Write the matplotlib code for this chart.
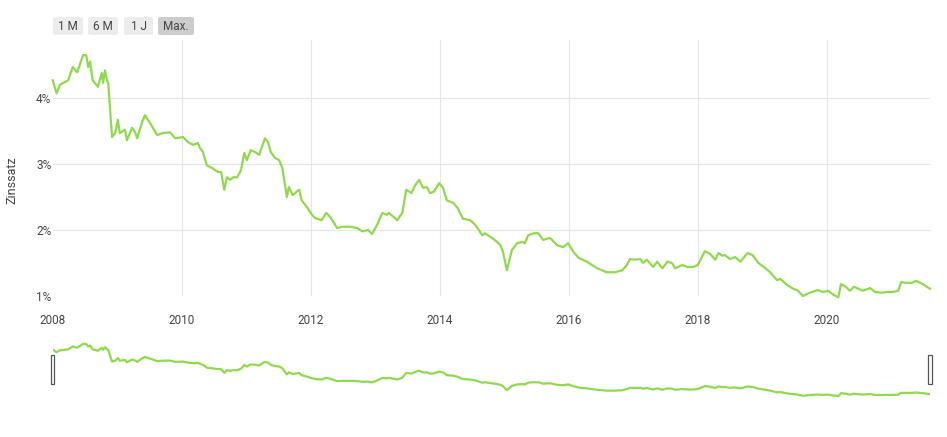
import matplotlib
matplotlib.use("Agg")
import matplotlib.pyplot as plt
from matplotlib.patches import FancyBboxPatch, Rectangle

plt.rcParams['font.family'] = ['Roboto', 'DejaVu Sans']

# Zinssatz (%), x as decimal years
years = [
    2008.00, 2008.06, 2008.11, 2008.24, 2008.31, 2008.38, 2008.47, 2008.52, 2008.55, 2008.58,
    2008.62, 2008.70, 2008.76, 2008.78, 2008.81, 2008.84, 2008.86, 2008.92, 2008.97, 2009.01,
    2009.04, 2009.12, 2009.15, 2009.23, 2009.28, 2009.31, 2009.38, 2009.43, 2009.51, 2009.62,
    2009.71, 2009.82, 2009.90, 2010.02, 2010.10, 2010.18, 2010.25, 2010.28, 2010.33, 2010.39,
    2010.47, 2010.56, 2010.61, 2010.66, 2010.70, 2010.75, 2010.80, 2010.86, 2010.92, 2010.97,
    2011.01, 2011.07, 2011.14, 2011.20, 2011.29, 2011.34, 2011.38, 2011.45, 2011.51, 2011.56,
    2011.63, 2011.66, 2011.72, 2011.82, 2011.86, 2011.94, 2012.02, 2012.07, 2012.17, 2012.24,
    2012.30, 2012.41, 2012.50, 2012.61, 2012.72, 2012.80, 2012.89, 2012.95, 2013.03, 2013.11,
    2013.18, 2013.21, 2013.34, 2013.42, 2013.48, 2013.56, 2013.62, 2013.68, 2013.74, 2013.80,
    2013.85, 2013.91, 2013.99, 2014.05, 2014.11, 2014.21, 2014.28, 2014.36, 2014.47, 2014.55,
    2014.66, 2014.70, 2014.81, 2014.89, 2014.94, 2014.98, 2015.04, 2015.12, 2015.20, 2015.28,
    2015.32, 2015.37, 2015.45, 2015.53, 2015.60, 2015.71, 2015.82, 2015.91, 2015.99, 2016.07,
    2016.15, 2016.28, 2016.44, 2016.59, 2016.72, 2016.83, 2016.90, 2016.95, 2017.03, 2017.11,
    2017.15, 2017.21, 2017.31, 2017.37, 2017.45, 2017.53, 2017.60, 2017.65, 2017.76, 2017.84,
    2017.93, 2018.00, 2018.11, 2018.19, 2018.27, 2018.32, 2018.38, 2018.42, 2018.50, 2018.58,
    2018.66, 2018.77, 2018.85, 2018.94, 2019.05, 2019.12, 2019.23, 2019.28, 2019.38, 2019.48,
    2019.54, 2019.63, 2019.69, 2019.77, 2019.86, 2019.94, 2020.02, 2020.10, 2020.18, 2020.22,
    2020.28, 2020.36, 2020.42, 2020.49, 2020.56, 2020.67, 2020.75, 2020.86, 2020.93, 2021.02,
    2021.11, 2021.15, 2021.23, 2021.32, 2021.38, 2021.45, 2021.49, 2021.55, 2021.60,
]
rates = [
    4.27, 4.07, 4.20, 4.27, 4.47, 4.39, 4.65, 4.65, 4.47, 4.55,
    4.27, 4.17, 4.38, 4.23, 4.42, 4.27, 4.23, 3.41, 3.47, 3.67,
    3.47, 3.52, 3.36, 3.55, 3.48, 3.39, 3.62, 3.74, 3.62, 3.44,
    3.47, 3.48, 3.39, 3.41, 3.33, 3.29, 3.32, 3.25, 3.18, 2.98,
    2.94, 2.88, 2.88, 2.61, 2.80, 2.76, 2.80, 2.80, 2.91, 3.17,
    3.06, 3.21, 3.18, 3.14, 3.39, 3.33, 3.18, 3.09, 3.06, 2.94,
    2.50, 2.65, 2.53, 2.61, 2.45, 2.35, 2.23, 2.18, 2.15, 2.26,
    2.20, 2.03, 2.05, 2.05, 2.03, 1.98, 2.00, 1.94, 2.08, 2.26,
    2.23, 2.26, 2.15, 2.26, 2.61, 2.56, 2.68, 2.76, 2.64, 2.65,
    2.56, 2.58, 2.71, 2.64, 2.45, 2.41, 2.33, 2.17, 2.15, 2.08,
    1.92, 1.95, 1.88, 1.82, 1.77, 1.67, 1.39, 1.70, 1.80, 1.82,
    1.80, 1.92, 1.95, 1.95, 1.85, 1.88, 1.77, 1.74, 1.80, 1.67,
    1.58, 1.52, 1.42, 1.36, 1.36, 1.39, 1.47, 1.56, 1.55, 1.56,
    1.50, 1.55, 1.44, 1.52, 1.42, 1.52, 1.50, 1.42, 1.47, 1.44,
    1.44, 1.47, 1.68, 1.64, 1.55, 1.65, 1.61, 1.62, 1.56, 1.59,
    1.52, 1.65, 1.62, 1.50, 1.42, 1.36, 1.24, 1.26, 1.17, 1.11,
    1.09, 1.00, 1.03, 1.06, 1.09, 1.06, 1.08, 1.02, 0.98, 1.18,
    1.15, 1.08, 1.14, 1.11, 1.08, 1.12, 1.06, 1.05, 1.06, 1.06,
    1.08, 1.21, 1.20, 1.20, 1.23, 1.20, 1.18, 1.14, 1.11,
]
year_ticks = [2008, 2010, 2012, 2014, 2016, 2018, 2020]
rate_ticks = [1, 2, 3, 4]
buttons = ["1 M", "6 M", "1 J", "Max."]

W, H = 947, 437
green = "#8fd94e"
grid = "#e6e6e6"

fig = plt.figure(figsize=(W / 100, H / 100), dpi=100)

def px_box(x0, y0, x1, y1):
    return [x0 / W, 1 - y1 / H, (x1 - x0) / W, (y1 - y0) / H]

# main chart
ax = fig.add_axes(px_box(52.7, 40, 930, 296))
ax.plot(years, rates, color=green, lw=1.6, clip_on=False, solid_joinstyle="round")
ax.set_xlim(2008, 2021.60)
ax.set_ylim(1.0, 4.88)
ax.set_xticks(year_ticks)
ax.set_xticklabels([str(y) for y in year_ticks])
ax.set_yticks(rate_ticks)
ax.set_yticklabels([f"{r}%" for r in rate_ticks])
ax.grid(True, color=grid, lw=0.8)
ax.get_xgridlines()[0].set_visible(False)  # no grid line on the left edge
ax.set_axisbelow(True)
for s in ax.spines.values():
    s.set_visible(False)
ax.tick_params(axis="x", length=0, pad=13, labelsize=8.5, labelcolor="#444444")
ax.tick_params(axis="y", length=0, pad=1, labelsize=8.5, labelcolor="#444444")
fig.text(12 / W, 1 - 180 / H, "Zinssatz", rotation=90, ha="center", va="center",
         fontsize=9, color="#444444")

# navigator
nav = fig.add_axes(px_box(52.7, 340, 930, 400))
nav.plot(years, rates, color=green, lw=1.6, solid_joinstyle="round")
nav.set_xlim(2008, 2021.60)
nav.set_ylim(0.70, 4.93)
nav.axis("off")
for hx in (0, 1):
    nav.add_patch(Rectangle((hx - 0.00175, 0.27), 0.0035, 0.48, transform=nav.transAxes,
                            facecolor="white", edgecolor="#555555", lw=0.9,
                            clip_on=False))

# range buttons
bx = [(53, 83), (88, 118), (124, 153), (158, 194)]
for (x0, x1), label in zip(bx, buttons):
    fc = "#cccccc" if label == "Max." else "#ececec"
    fig.patches.append(FancyBboxPatch((x0 / W, 1 - 35 / H), (x1 - x0) / W, 18 / H,
                                      boxstyle="round,pad=0,rounding_size=0.004",
                                      transform=fig.transFigure, facecolor=fc,
                                      edgecolor="none"))
    fig.text((x0 + x1) / 2 / W, 1 - 26 / H, label, ha="center", va="center",
             fontsize=8.5, color="#444444")

fig.savefig("out.png", dpi=100)
